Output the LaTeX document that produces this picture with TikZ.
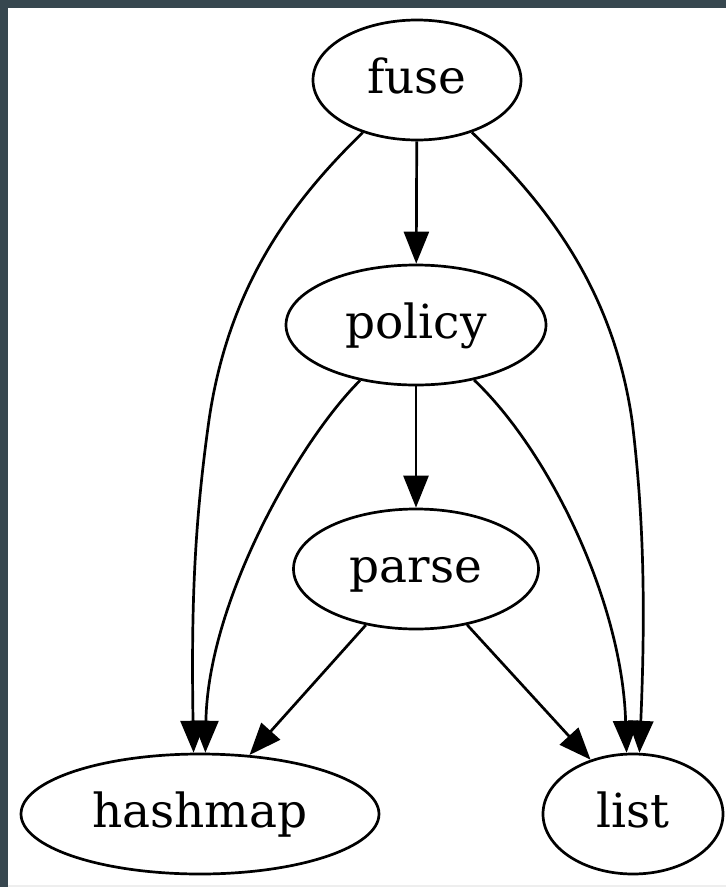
\documentclass[tikz,border=0pt]{standalone}
\usepackage{fontspec}
\setmainfont{DejaVu Serif}
\usetikzlibrary{shapes.geometric,arrows.meta}
\definecolor{framecol}{HTML}{37474F}
\definecolor{rimcol}{HTML}{EEEEEE}

\begin{document}
\begin{tikzpicture}[x=1pt,y=-1pt,
  vertex/.style={ellipse, draw=black, line width=2.7pt, inner sep=0pt,
    minimum height=120pt, font=\fontsize{47}{56}\selectfont,
    text height=30pt, text depth=4pt},
  link/.style={line width=2.7pt, -{Triangle[length=32pt,width=25pt]}}]

  % page frame
  \useasboundingbox (0,0) rectangle (726,887);
  \fill[framecol] (0,0) rectangle (726,887);
  \fill[white] (8,8) rectangle (726,885);
  \fill[rimcol] (8,885) rectangle (726,887);

  % nodes
  \node[vertex, minimum width=208pt] (fuse)    at (417,80)  {fuse};
  \node[vertex, minimum width=260pt] (policy)  at (416,325) {policy};
  \node[vertex, minimum width=245pt] (parse)   at (416,569) {parse};
  \node[vertex, minimum width=358pt] (hashmap) at (200,814) {hashmap};
  \node[vertex, minimum width=180pt] (list)    at (633,814) {list};

  % straight edges
  \draw[link] (fuse) -- (policy);
  \draw[link] (policy) -- (parse);
  \draw[link] (parse) -- (hashmap.50);
  \draw[link] (parse) -- (list.128);

  % curved edges
  \draw[link] (fuse) .. controls (288,205) and (228,290) .. (209,420)
                     .. controls (195,520) and (191,600) .. (hashmap.96);
  \draw[link] (policy) .. controls (300,440) and (208,600) .. (hashmap.85);
  \draw[link] (fuse) .. controls (548,205) and (613,290) .. (632,420)
                     .. controls (643,510) and (646,600) .. (list.84);
  \draw[link] (policy) .. controls (548,450) and (622,600) .. (list.96);
\end{tikzpicture}
\end{document}
